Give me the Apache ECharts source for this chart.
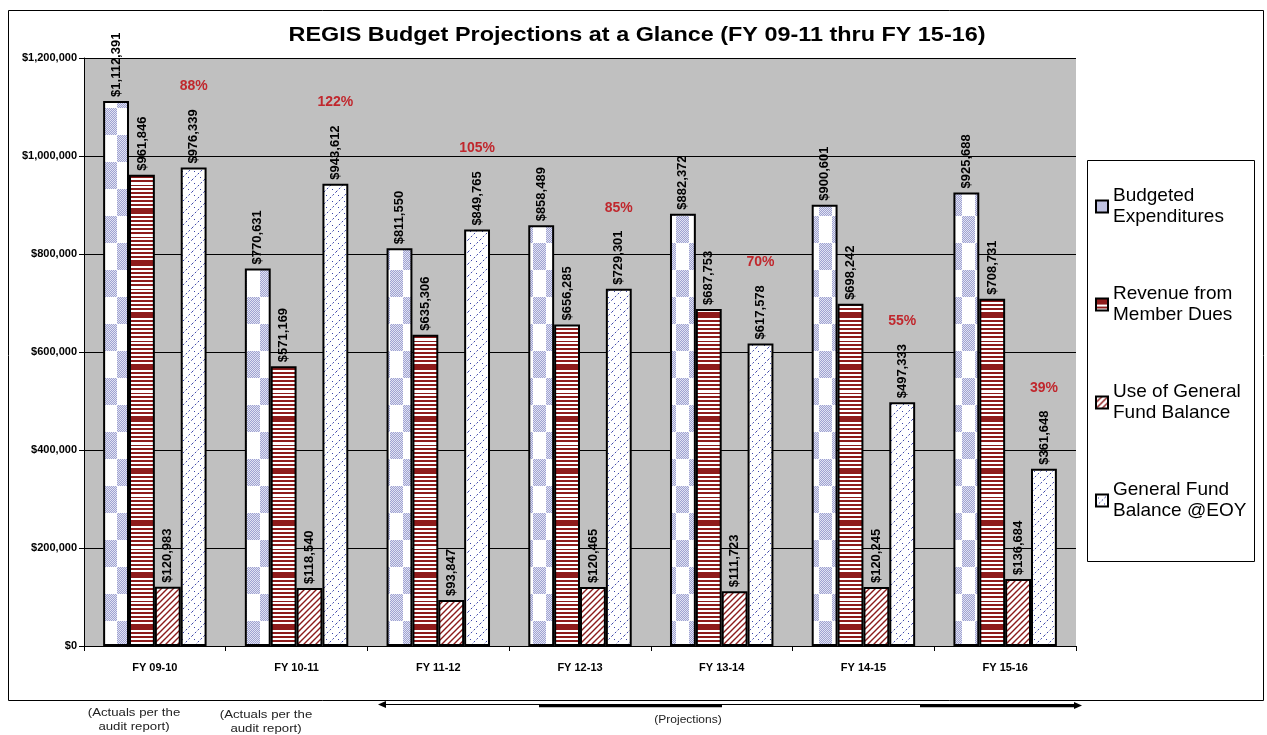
<!DOCTYPE html>
<html>
<head>
<meta charset="utf-8">
<script src="https://cdn.jsdelivr.net/npm/echarts@6/dist/echarts.min.js"></script>
<style>
html, body { margin: 0; padding: 0; background: #fff; }
#chart-container { width: 1267px; height: 735px; }
</style>
</head>
<body>
<div id="chart-container"></div>
<script>
// 資料
var categories = ['FY 09-10', 'FY 10-11', 'FY 11-12', 'FY 12-13', 'FY 13-14', 'FY 14-15', 'FY 15-16'];
var budgetedExpenditures = [1112391, 770631, 811550, 858489, 882372, 900601, 925688];
var memberDues = [961846, 571169, 635306, 656285, 687753, 698242, 708731];
var useOfFundBalance = [120983, 118540, 93847, 120465, 111723, 120245, 136684];
var fundBalanceEOY = [976339, 943612, 849765, 729301, 617578, 497333, 361648];
var balancePercent = ['88%', '122%', '105%', '85%', '70%', '55%', '39%'];
var seriesNames = ['Budgeted\nExpenditures', 'Revenue from\nMember Dues', 'Use of General\nFund Balance', 'General Fund\nBalance @EOY'];
var yMin = 0, yMax = 1200000, yStep = 200000;

var FONT = '"Liberation Sans", Arial, sans-serif';
var CAT_GAP = 0.27;

// 填充圖樣
function makePattern(w, h, draw) {
    var c = document.createElement('canvas');
    c.width = w;
    c.height = h;
    var ctx = c.getContext('2d');
    ctx.fillStyle = '#fff';
    ctx.fillRect(0, 0, w, h);
    draw(ctx, w, h);
    return { image: c, repeat: 'repeat' };
}

var checkerPattern = makePattern(26, 54, function(ctx, w, h) {
    for (var y = 0; y < h; y++) {
        for (var x = 0; x < w; x++) {
            var cell = (Math.floor(x / 13) + Math.floor(y / 27)) % 2;
            if (cell === 0) {
                ctx.fillStyle = (x + y) % 2 ? '#9ea2d2' : '#e2e3f2';
                ctx.fillRect(x, y, 1, 1);
            }
        }
    }
});

var stripePattern = makePattern(8, 52, function(ctx, w, h) {
    ctx.fillStyle = '#8e1b1b';
    for (var y = 0; y < h; y += 4) ctx.fillRect(0, y, w, 2);
    ctx.fillRect(0, 0, w, 4);
    ctx.fillStyle = '#fff';
    ctx.fillRect(0, 26, w, 3);
});

var diagPattern = makePattern(6, 6, function(ctx) {
    ctx.strokeStyle = '#8b1a1a';
    ctx.lineWidth = 1.4;
    ctx.beginPath();
    ctx.moveTo(-1, 7); ctx.lineTo(7, -1);
    ctx.moveTo(-1, 1); ctx.lineTo(1, -1);
    ctx.moveTo(5, 7); ctx.lineTo(7, 5);
    ctx.stroke();
});

var bluePattern = makePattern(12, 12, function(ctx) {
    ctx.strokeStyle = '#3b45a8';
    ctx.lineWidth = 1;
    ctx.setLineDash([2, 2]);
    ctx.beginPath();
    ctx.moveTo(0, 12); ctx.lineTo(12, 0);
    ctx.stroke();
    ctx.fillStyle = '#3b45a8';
    ctx.fillRect(2, 3, 1, 1);
    ctx.fillRect(8, 9, 1, 1);
});

function money(v) {
    return '$' + v.toLocaleString('en-US');
}

function barSeries(name, data, pattern) {
    return {
        name: name,
        type: 'bar',
        data: data,
        barGap: '0%',
        barCategoryGap: (CAT_GAP * 100) + '%',
        itemStyle: { color: pattern, borderColor: '#000', borderWidth: 2 },
        label: {
            show: true,
            position: 'top',
            rotate: 90,
            align: 'left',
            verticalAlign: 'middle',
            distance: 4,
            color: '#000',
            fontFamily: FONT,
            fontWeight: 'bold',
            fontSize: 13,
            formatter: function(p) { return money(p.value); }
        }
    };
}

// 底部說明文字 (橫向略拉寬)
function note(x, y, text, size) {
    return {
        type: 'text', silent: true, x: x, y: y, scaleX: 1.2,
        style: { text: text, fill: '#222', font: size + 'px ' + FONT, align: 'center', lineHeight: 14 }
    };
}

var chart = echarts.init(document.getElementById('chart-container'));

var option = {
    animation: false,
    backgroundColor: '#fff',
    grid: {
        left: 84,
        right: 191,
        top: 58,
        bottom: 89,
        show: true,
        backgroundColor: '#c0c0c0',
        borderWidth: 0
    },
    legend: {
        orient: 'vertical',
        left: 1090,
        top: 170,
        itemGap: 35,
        itemWidth: 12,
        itemHeight: 12,
        icon: 'rect',
        data: seriesNames,
        textStyle: { fontFamily: FONT, fontSize: 19, lineHeight: 21, color: '#000', padding: [21, 0, 0, 0] }
    },
    xAxis: {
        type: 'category',
        data: categories,
        axisLine: { lineStyle: { color: '#000', width: 1 } },
        axisTick: { show: true, length: 5, lineStyle: { color: '#000' } },
        axisLabel: { margin: 16, fontFamily: FONT, fontWeight: 'bold', fontSize: 11, color: '#000' }
    },
    yAxis: {
        type: 'value',
        min: yMin,
        max: yMax,
        interval: yStep,
        axisLine: { show: true, lineStyle: { color: '#000', width: 1 } },
        axisTick: { show: true, length: 5, lineStyle: { color: '#000' } },
        axisLabel: { margin: 7, fontFamily: FONT, fontWeight: 'bold', fontSize: 11, color: '#000', formatter: money },
        splitLine: { lineStyle: { color: '#000', width: 1 } }
    },
    series: [
        barSeries(seriesNames[0], budgetedExpenditures, checkerPattern),
        barSeries(seriesNames[1], memberDues, stripePattern),
        barSeries(seriesNames[2], useOfFundBalance, diagPattern),
        barSeries(seriesNames[3], fundBalanceEOY, bluePattern),
        { // 百分比 (期末餘額 / 預算支出)
            type: 'custom',
            name: 'pct',
            silent: true,
            z: 10,
            data: fundBalanceEOY.map(function(v, i) { return [i, v]; }),
            renderItem: function(params, api) {
                var p = api.coord([api.value(0), api.value(1)]);
                var band = api.size([1, 0])[0];
                var bw = band * (1 - CAT_GAP) / 4;
                return {
                    type: 'text',
                    x: p[0] + 1.5 * bw,
                    y: p[1] - 81,
                    style: {
                        text: balancePercent[params.dataIndex],
                        fill: '#c0272d',
                        font: 'bold 14px ' + FONT,
                        align: 'center',
                        verticalAlign: 'middle'
                    }
                };
            }
        }
    ],
    graphic: [
        { type: 'rect', silent: true, shape: { x: 8.5, y: 10.5, width: 1255, height: 690 }, style: { fill: 'transparent', stroke: '#000', lineWidth: 1 } },
        { type: 'rect', silent: true, shape: { x: 1087.5, y: 160.5, width: 167, height: 401 }, style: { fill: 'transparent', stroke: '#000', lineWidth: 1 } },
        { // 標題
            type: 'text', silent: true, x: 637, y: 35, scaleX: 1.17,
            style: { text: 'REGIS Budget Projections at a Glance (FY 09-11 thru FY 15-16)', fill: '#000', font: 'bold 20px ' + FONT, align: 'center', verticalAlign: 'middle' }
        },
        note(134, 706, '(Actuals per the\naudit report)', 11),
        note(266, 708, '(Actuals per the\naudit report)', 11),
        note(688, 713, '(Projections)', 10),
        { type: 'line', silent: true, shape: { x1: 384, y1: 704.5, x2: 1076, y2: 704.5 }, style: { stroke: '#000', lineWidth: 1 } },
        { type: 'line', silent: true, shape: { x1: 539, y1: 706, x2: 722, y2: 706 }, style: { stroke: '#000', lineWidth: 2.5 } },
        { type: 'line', silent: true, shape: { x1: 920, y1: 706, x2: 1076, y2: 706 }, style: { stroke: '#000', lineWidth: 2.5 } },
        { type: 'polygon', silent: true, shape: { points: [[378, 704.5], [386, 701], [386, 708]] }, style: { fill: '#000' } },
        { type: 'polygon', silent: true, shape: { points: [[1082, 705.5], [1074, 702], [1074, 709]] }, style: { fill: '#000' } }
    ]
};

chart.setOption(option);

window.addEventListener('resize', function() {
    chart.resize();
});
</script>
</body>
</html>
